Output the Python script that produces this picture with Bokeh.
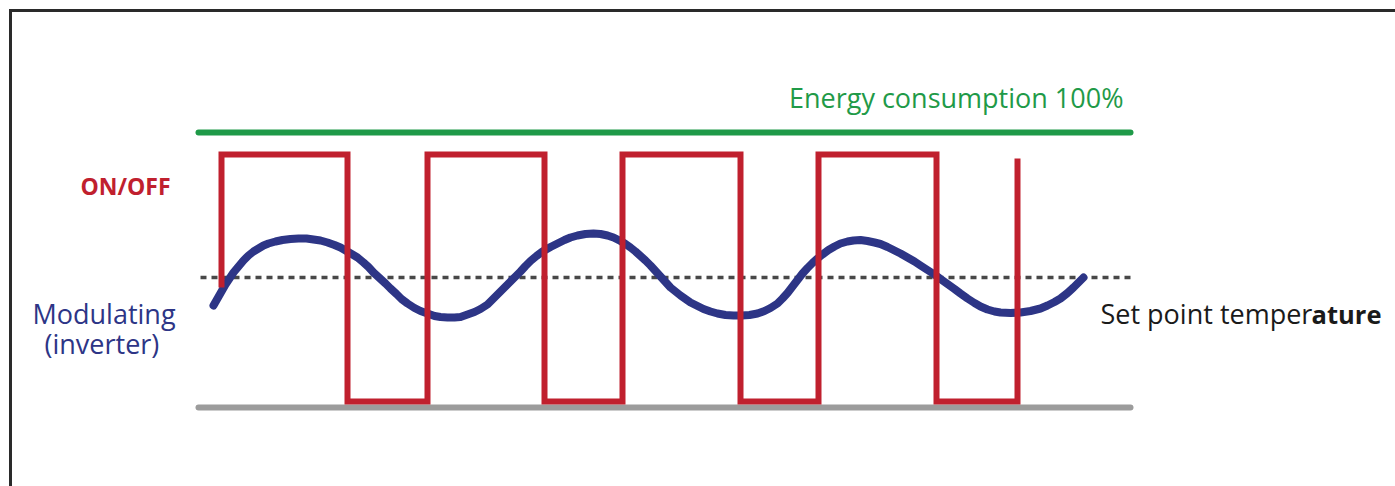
from bokeh.plotting import figure
from bokeh.models import Range1d, Label
from bokeh.embed import file_html
from bokeh.resources import INLINE

# ---------------- data (time t, signal level above baseline) ----------------
energy_level = 275          # "Energy consumption 100%"
setpoint_level = 130        # set point temperature
baseline_level = 0          # zero consumption
line_t_start = 1
line_t_end = 933
dotted_t_start = 3
dotted_t_end = 934

# ON/OFF compressor: switching times and on/off levels
onoff_switch_t = [24, 150, 230, 347, 425, 543, 621, 739, 820]
onoff_on = 253
onoff_off = 6
onoff_first_level = 120
onoff_last_level = 249

# Modulating (inverter) temperature curve
mod_t = [16, 20, 24, 28, 32, 36, 41, 46, 51, 56, 61, 66, 71, 78, 85, 93, 101, 109, 116,
         123, 130, 137, 143, 149, 155, 160, 166, 171, 176, 182, 188, 193, 199, 204, 210,
         217, 223, 230, 237, 243, 250, 257, 263, 270, 277, 283, 290, 296, 303, 308, 313,
         318, 323, 328, 333, 339, 345, 353, 360, 367, 373, 380, 388, 396, 403, 410, 416,
         423, 428, 433, 438, 443, 448, 453, 458, 463, 468, 473, 478, 483, 488, 493, 500,
         506, 513, 520, 528, 536, 544, 552, 560, 567, 573, 580, 585, 590, 595, 600, 605,
         610, 615, 620, 625, 631, 637, 643, 650, 656, 663, 670, 677, 683, 690, 697, 703,
         710, 717, 723, 730, 737, 743, 750, 757, 763, 770, 777, 783, 790, 797, 803, 813,
         823, 833, 843, 850, 857, 863, 870, 876, 881, 886]
mod_level = [102, 109, 116, 123, 129, 135, 141, 147, 152, 156, 159, 162, 164, 166, 167.5,
             168.5, 169, 169, 168, 167, 165, 162.5, 160, 156.5, 153, 150, 145, 140.5, 135,
             129.5, 124, 119, 113.5, 108.5, 104, 99.5, 96.5, 94, 91.5, 90.5, 90, 90, 90.5,
             93, 95.5, 98.5, 103, 109, 116, 121, 126, 131, 136, 141.5, 146.5, 151.5, 156,
             160.5, 164, 167.5, 170, 172, 173.5, 174, 173.5, 172, 170, 166.5, 163.5, 160,
             156, 151.5, 147, 142, 136.5, 131, 125.5, 120, 116, 112, 108.5, 105, 101.5,
             98.5, 96, 94, 92.5, 92, 92, 92.5, 94, 96.5, 99.5, 104, 109, 114.5, 121, 127.5,
             134, 139.5, 144.5, 149, 153, 157.5, 161, 164, 166, 167, 167.5, 166.5, 165,
             163.5, 160.5, 157, 154, 150, 146, 142, 137.5, 133, 128.5, 123.5, 118.5, 114,
             109, 104.5, 101, 98, 96, 95, 94.5, 95, 96.5, 99, 102, 105.5, 109, 114.5, 120,
             125, 130]

# build the square wave from the switching times
sq_t = [onoff_switch_t[0]]
sq_y = [onoff_first_level]
state_on = True
for i, t in enumerate(onoff_switch_t):
    if i == len(onoff_switch_t) - 1:
        sq_t.append(t)
        sq_y.append(onoff_last_level)
        break
    lvl = onoff_on if state_on else onoff_off
    sq_t += [t, onoff_switch_t[i + 1]]
    sq_y += [lvl, lvl]
    state_on = not state_on

# ---------------- figure ----------------
W, H = 1395, 486
p = figure(width=W, height=H, output_backend="svg", toolbar_location=None,
           x_range=Range1d(-197, 1198), y_range=Range1d(-79, 407),
           x_axis_location=None, y_axis_location=None, min_border=0)
p.grid.visible = False
p.outline_line_color = None
p.background_fill_color = "white"
p.border_fill_color = "white"

FONT = "Open Sans"
RED = "#c0202e"
BLUE = "#2d3586"
GREEN = "#1f9a48"

# frame (left and top border of the original picture)
xs, xe = p.x_range.start, p.x_range.end
ys, ye = p.y_range.start, p.y_range.end
p.line([xs + 10, xs + 10], [ys, ye - 8.5], line_color="#2a2a2a", line_width=3)
p.line([xs + 8.5, xe], [ye - 10, ye - 10], line_color="#2a2a2a", line_width=3)

# baseline and 100% line
p.line([line_t_start, line_t_end], [baseline_level, baseline_level],
       line_color="#9c9c9c", line_width=6, line_cap="round")
p.line([line_t_start, line_t_end], [energy_level, energy_level],
       line_color=GREEN, line_width=6, line_cap="round")

# set point dotted line
p.line([dotted_t_start, dotted_t_end], [setpoint_level, setpoint_level],
       line_color="#484848", line_width=3.5, line_dash="6 5")

# modulating curve
p.line(mod_t, mod_level, line_color=BLUE, line_width=8,
       line_cap="round", line_join="round")

# on/off square wave
p.line(sq_t, sq_y, line_color=RED, line_width=6, line_join="miter", line_cap="butt")

# texts
p.add_layout(Label(x=926, y=310, text="Energy consumption 100%", text_align="right",
                   text_baseline="alphabetic", text_font=FONT, text_font_size="27px",
                   text_color=GREEN))
p.add_layout(Label(x=-117, y=222, text="ON/OFF", text_align="left",
                   text_baseline="alphabetic", text_font=FONT, text_font_size="23px",
                   text_font_style="bold", text_color=RED))
p.add_layout(Label(x=-165, y=94, text="Modulating", text_align="left",
                   text_baseline="alphabetic", text_font=FONT, text_font_size="27px",
                   text_color=BLUE))
p.add_layout(Label(x=-153, y=64, text="(inverter)", text_align="left",
                   text_baseline="alphabetic", text_font=FONT, text_font_size="27px",
                   text_color=BLUE))
p.add_layout(Label(x=903, y=94, text="Set point temper", text_align="left",
                   text_baseline="alphabetic", text_font=FONT, text_font_size="27px",
                   text_color="#1a1a1a"))
p.add_layout(Label(x=1184, y=94, text="ature", text_align="right",
                   text_baseline="alphabetic", text_font=FONT, text_font_size="25.5px",
                   text_font_style="bold", text_color="#1a1a1a"))

open("out.html", "w").write(file_html(p, INLINE))
